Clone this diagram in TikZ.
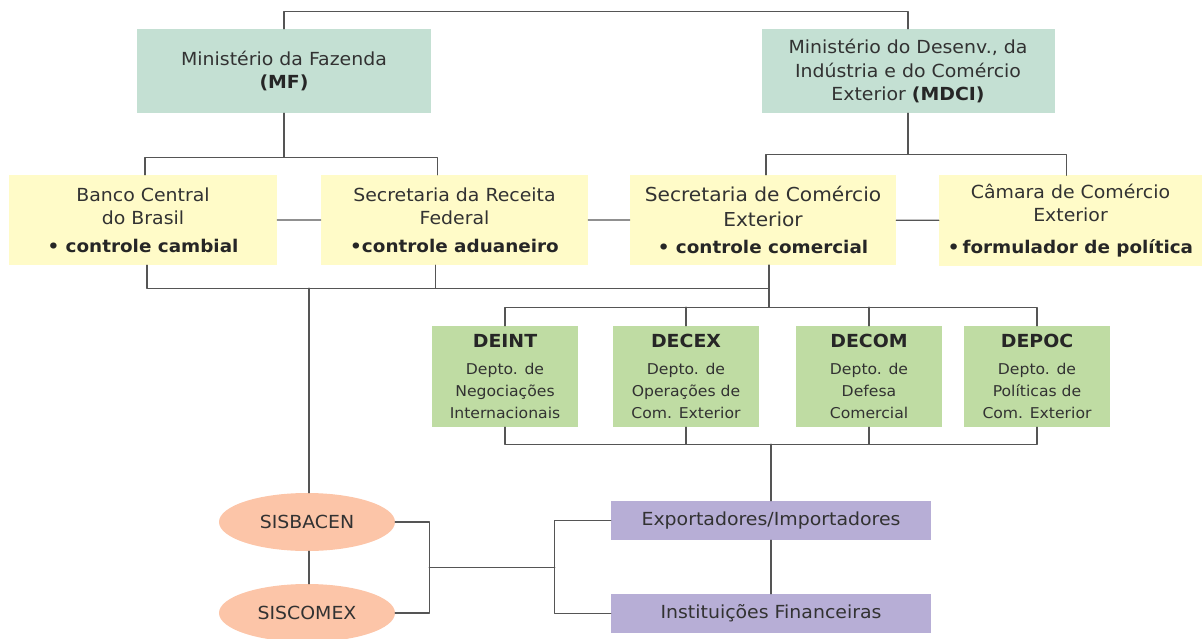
\documentclass[tikz,border=0pt]{standalone}
\usepackage{fontspec}
\setmainfont{DejaVu Sans}[FakeStretch=1.05]
\usetikzlibrary{shapes.geometric,calc}
\definecolor{minfill}{RGB}{196,224,211}
\definecolor{secfill}{RGB}{255,251,200}
\definecolor{depfill}{RGB}{191,220,163}
\definecolor{sysfill}{RGB}{252,197,168}
\definecolor{agtfill}{RGB}{183,174,214}
\definecolor{lngray}{RGB}{85,85,85}
\definecolor{txtgray}{RGB}{50,50,50}
\begin{document}
\begin{tikzpicture}[x=1pt, y=-1pt, line join=round, line cap=round,
  every node/.style={text=txtgray, inner sep=0pt, align=center},
  mbox/.style={fill=minfill, minimum width=294pt, minimum height=84pt, font=\fontsize{18}{23.5}\selectfont},
  ybox/.style={fill=secfill, minimum width=267pt, minimum height=90pt, font=\fontsize{18}{23.5}\selectfont},
  gbox/.style={fill=depfill, minimum width=146pt, minimum height=101pt, font=\fontsize{14.9}{22}\selectfont},
  sbox/.style={ellipse, fill=sysfill, minimum width=176pt, minimum height=58pt, font=\fontsize{18}{20}\selectfont},
  pbox/.style={fill=agtfill, minimum width=320pt, minimum height=39pt, font=\fontsize{18}{20}\selectfont},
  lnk/.style={draw=lngray, line width=1.3pt}]
\def\bul#1{{\fontsize{17.5}{20}\selectfont\bfseries\color{black!85}#1}}
\def\ttl#1{{\fontsize{18}{20}\selectfont\bfseries\color{black!85}#1}}
\useasboundingbox (0,0) rectangle (1204,639);
% ministries
\node[mbox] (mf) at (284,71) {Ministério da Fazenda\\\ttl{(MF)}};
\node[mbox, minimum width=293pt] (mdci) at (908,71) {Ministério do Desenv., da\\Indústria e do Comércio\\Exterior \ttl{(MDCI)}};
% secretarias
\node[ybox, minimum width=268pt] (bc) at (143,220) {Banco Central\\do Brasil\\[4pt]\bul{• controle cambial}};
\node[ybox] (srf) at (454.5,220) {Secretaria da Receita\\Federal\\[4pt]\bul{•controle aduaneiro}};
\node[ybox, minimum width=266pt, font=\fontsize{19.2}{25}\selectfont] (sce) at (763,220) {Secretaria de Comércio\\Exterior\\[2pt]\bul{• controle comercial}};
\node[ybox, minimum width=263pt] (camex) at (1070.5,220.5) {Câmara de Comércio\\Exterior\\[8pt]\bul{•\,formulador de política}};
% departamentos
\node[gbox] (deint) at (505,376.5) {\ttl{DEINT}\\[5pt]Depto. de\\Negociações\\Internacionais};
\node[gbox] (decex) at (686,376.5) {\ttl{DECEX}\\[5pt]Depto. de\\Operações de\\Com. Exterior};
\node[gbox] (decom) at (869,376.5) {\ttl{DECOM}\\[5pt]Depto. de\\Defesa\\Comercial};
\node[gbox] (depoc) at (1037,376.5) {\ttl{DEPOC}\\[5pt]Depto. de\\Políticas de\\Com. Exterior};
% sistemas e agentes
\node[sbox] (sisbacen) at (307,522) {SISBACEN};
\node[sbox] (siscomex) at (307,613) {SISCOMEX};
\node[pbox] (expimp) at (771,520.5) {Exportadores/Importadores};
\node[pbox] (instfin) at (771,613.5) {Instituições Financeiras};
% ligacoes
\draw[lnk] (mf.north) -- ++(0,-17) -| (mdci.north);
\draw[lnk] (mf.south) -- ++(0,44) coordinate (mfj);
\draw[lnk] ([xshift=2pt]bc.north) |- (mfj) -| ([xshift=-17pt]srf.north);
\draw[lnk] (mdci.south) -- ++(0,41) coordinate (mdj);
\draw[lnk] ([xshift=3pt]sce.north) |- (mdj) -| ([xshift=-4pt]camex.north);
\draw[lnk] (bc) -- (srf) (srf) -- (sce) (sce) -- (camex);
\draw[lnk] ([xshift=4pt]bc.south) -- ++(0,23) coordinate (tj) -| ([xshift=6pt]sce.south);
\draw[lnk] ([xshift=-19pt]srf.south) -- ++(0,23);
\draw[lnk] ([xshift=6pt]sce.south) -- ++(0,42) coordinate (dj);
\draw[lnk] (deint.north) |- (dj) -| (depoc.north);
\draw[lnk] (decex.north) -- (decex.north |- dj) (decom.north) -- (decom.north |- dj);
\draw[lnk] ([xshift=2pt]sisbacen.north) -- ([xshift=2pt]sisbacen.north |- tj);
\draw[lnk] (deint.south) -- ++(0,17) coordinate (bj) -| (depoc.south);
\draw[lnk] (decex.south) -- (decex.south |- bj) (decom.south) -- (decom.south |- bj);
\draw[lnk] (expimp.north) -- (expimp.north |- bj);
\draw[lnk] (expimp) -- (instfin);
\draw[lnk] ([xshift=2pt]sisbacen.south) -- ([xshift=2pt]siscomex.north);
\draw[lnk] (sisbacen.east) -- ++(34,0) coordinate (sa) |- (siscomex.east);
\draw[lnk] (expimp.west) -- ++(-56,0) coordinate (ea) |- (instfin.west);
\coordinate (sm) at ($(sa)!.5!(sa |- siscomex.east)$);
\draw[lnk] (sm) -- (sm -| ea);
\end{tikzpicture}
\end{document}
